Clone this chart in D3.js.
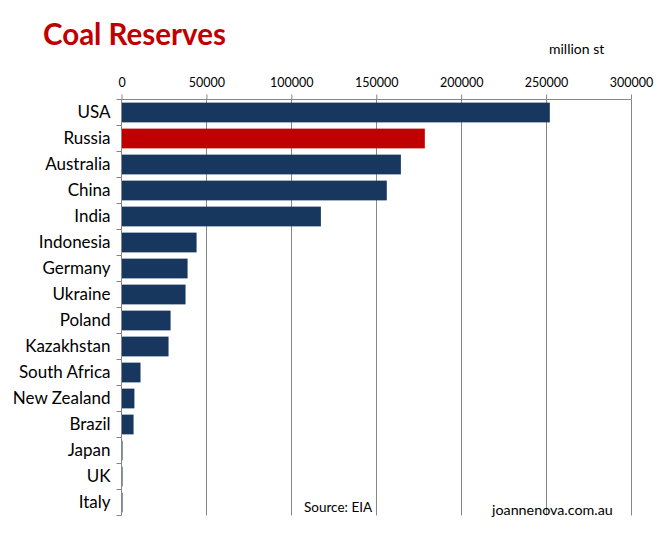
<!DOCTYPE html>
<html>
<head>
<meta charset="utf-8">
<script src="https://cdn.jsdelivr.net/npm/d3@7"></script>
<style>
  body { margin: 0; background: #fff; }
  text { font-family: Lato, "Open Sans", sans-serif; }
</style>
</head>
<body>
<div id="chart"></div>
<script>
  var countries = ['USA', 'Russia', 'Australia', 'China', 'India', 'Indonesia', 'Germany',
    'Ukraine', 'Poland', 'Kazakhstan', 'South Africa', 'New Zealand', 'Brazil', 'Japan', 'UK', 'Italy'];
  var reserves = [252200, 178600, 164500, 156200, 117400, 44200, 38900,
    37700, 28900, 27700, 11200, 7600, 7100, 400, 250, 100];
  var xTicks = [0, 50000, 100000, 150000, 200000, 250000, 300000];

  var width = 665,
    height = 534,
    plotLeft = 121.5,
    plotRight = 631,
    plotTop = 99.5,
    plotBottom = 515.5;

  var svg = d3.select('#chart')
    .append('svg')
    .attr('width', width)
    .attr('height', height);

  var x = d3.scaleLinear().domain([0, 300000]).range([plotLeft, plotRight]);
  var y = d3.scaleBand().domain(countries).range([plotTop, plotBottom]).paddingInner(0.24).paddingOuter(0.12);

  // gridlines
  svg.append('g')
    .selectAll('line')
    .data(xTicks.slice(1))
    .enter()
    .append('line')
    .attr('x1', function(d) { return Math.round(x(d)) + 0.5; })
    .attr('x2', function(d) { return Math.round(x(d)) + 0.5; })
    .attr('y1', plotTop)
    .attr('y2', plotBottom)
    .attr('stroke', '#868686');

  // top axis
  var xAxis = svg.append('g')
    .attr('transform', 'translate(0,' + plotTop + ')')
    .call(d3.axisTop(x).tickValues(xTicks).tickSize(5).tickPadding(8).tickFormat(d3.format('d')));
  xAxis.select('.domain').attr('stroke', '#868686').attr('d', 'M' + (plotLeft - 4) + ',0H' + plotRight);
  xAxis.selectAll('.tick line').attr('stroke', '#868686');
  xAxis.selectAll('.tick text')
    .attr('fill', '#000')
    .style('font-size', '12.5px')
    .style('font-family', 'Lato, sans-serif');

  // bars
  svg.append('g')
    .selectAll('rect')
    .data(countries)
    .enter()
    .append('rect')
    .attr('x', x(0))
    .attr('y', function(d) { return y(d); })
    .attr('width', function(d, i) { return Math.max(1, x(reserves[i]) - x(0)); })
    .attr('height', y.bandwidth())
    .attr('fill', function(d) { return d === 'Russia' ? '#C00000' : '#17375E'; });

  // left axis
  var y2 = d3.scaleBand().domain(countries).range([plotTop, plotBottom]);
  var yAxis = svg.append('g')
    .attr('transform', 'translate(' + plotLeft + ',0)')
    .call(d3.axisLeft(y2).tickSize(0).tickPadding(11));
  yAxis.select('.domain').attr('stroke', '#868686').attr('d', 'M0,' + plotTop + 'V' + plotBottom);
  yAxis.selectAll('.tick text')
    .attr('fill', '#000')
    .style('font-size', '17px')
    .style('font-family', 'Lato, sans-serif');

  // band boundary ticks
  svg.append('g')
    .selectAll('line')
    .data(d3.range(countries.length + 1))
    .enter()
    .append('line')
    .attr('x1', plotLeft - 5)
    .attr('x2', plotLeft)
    .attr('y1', function(i) { return plotTop + i * y2.step(); })
    .attr('y2', function(i) { return plotTop + i * y2.step(); })
    .attr('stroke', '#868686');

  svg.append('text')
    .attr('x', 43)
    .attr('y', 45)
    .attr('fill', '#C00000')
    .style('font-size', '29.5px')
    .style('font-weight', 'bold')
    .text('Coal Reserves');

  svg.append('text')
    .attr('x', 549)
    .attr('y', 54)
    .style('font-size', '14px')
    .text('million st');

  svg.append('text')
    .attr('x', 304)
    .attr('y', 512)
    .style('font-size', '13.5px')
    .text('Source: EIA');

  svg.append('text')
    .attr('x', 492)
    .attr('y', 515)
    .style('font-size', '14.3px')
    .text('joannenova.com.au');
</script>
</body>
</html>
